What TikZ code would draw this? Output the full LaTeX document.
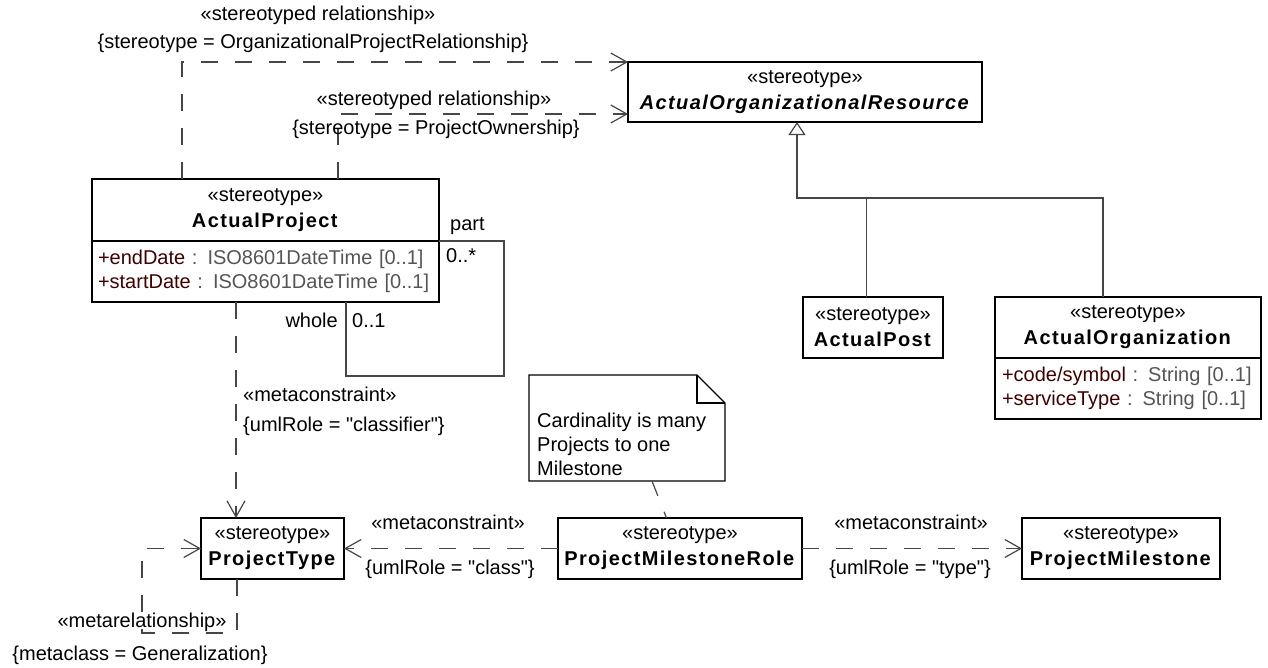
\documentclass[tikz,border=0pt]{standalone}
\usepackage{fontspec}
\setmainfont{Liberation Sans}[Ligatures=TeXOff,BoldFeatures={LetterSpace=7},BoldItalicFeatures={LetterSpace=7}]
\usepackage{tikz}
\usetikzlibrary{arrows.meta,positioning}

\definecolor{linegray}{RGB}{70,70,70}
\definecolor{attrname}{RGB}{64,0,0}
\definecolor{attrtype}{RGB}{85,85,85}

\newcommand{\umlfont}{\fontsize{20}{26}\selectfont}
\newcommand{\attrfont}{\fontsize{20}{24}\selectfont}
\newcommand{\umlattr}[2]{\textcolor{attrname}{#1} \textcolor{attrtype}{: #2}}

\begin{document}
\begin{tikzpicture}[x=1pt, y=-1pt,
    stereo/.style={draw, line width=1.3pt, fill=white, align=center, inner sep=0pt, outer sep=0pt, font=\umlfont},
    attrs/.style={draw, line width=1.3pt, fill=white, align=left, inner ysep=0pt, inner xsep=6pt, outer sep=0pt, minimum height=61pt, font=\attrfont},
    dep/.style={draw=linegray, line width=1.2pt, dash pattern=on 17pt off 17pt, -{Straight Barb[length=16pt,width=18pt]}},
    assoc/.style={draw=linegray, line width=1.2pt},
    gen/.style={draw=linegray, line width=1.2pt, -{Triangle[open,length=13pt,width=17pt]}},
    notelink/.style={draw=linegray, line width=1.2pt, dash pattern=on 16pt off 17pt},
    lbl/.style={font=\umlfont, inner sep=0pt, text height=14.5pt, text depth=4.5pt},
    notetext/.style={font=\fontsize{20}{24}\selectfont, align=left, inner sep=0pt}
  ]
    \useasboundingbox (0,0) rectangle (1268,667);

    % classes
    \node[stereo, minimum width=354pt, minimum height=60pt] (aor) at (805,92) {«stereotype»\\\textbf{\textit{ActualOrganizationalResource}}};
    \node[stereo, minimum width=347pt, minimum height=62pt] (ap) at (265.5,210) {«stereotype»\\\textbf{ActualProject}};
    \node[attrs, minimum width=347pt, text width=335pt, below=0pt of ap] (apattr) {\umlattr{+endDate}{ISO8601DateTime [0..1]}\\\umlattr{+startDate}{ISO8601DateTime [0..1]}};
    \node[stereo, minimum width=140pt, minimum height=61pt] (apost) at (873,327.5) {«stereotype»\\\textbf{ActualPost}};
    \node[stereo, minimum width=266pt, minimum height=61pt] (aorg) at (1128,327.5) {«stereotype»\\\textbf{ActualOrganization}};
    \node[attrs, minimum width=266pt, text width=252pt, inner xsep=7pt, below=0pt of aorg] (aorgattr) {\umlattr{+code/symbol}{String [0..1]}\\\umlattr{+serviceType}{String [0..1]}};
    \node[stereo, minimum width=143pt, minimum height=61pt] (pt) at (272.5,548.5) {«stereotype»\\\textbf{ProjectType}};
    \node[stereo, minimum width=244pt, minimum height=61pt] (pmr) at (680,548.5) {«stereotype»\\\textbf{ProjectMilestoneRole}};
    \node[stereo, minimum width=198pt, minimum height=61pt] (pm) at (1121,548.5) {«stereotype»\\\textbf{ProjectMilestone}};

    % note with folded corner
    \node[minimum width=196pt, minimum height=106pt, inner sep=0pt, outer sep=0pt] (note) at (627,428) {};
    \draw[line width=1.3pt, fill=white] (note.south west) -- (note.north west) -- ([xshift=-28pt]note.north east)
      -- ([yshift=-28pt]note.north east) -- (note.south east) -- cycle;
    \draw[line width=1.3pt] ([xshift=-28pt]note.north east) |- ([yshift=-28pt]note.north east);
    \node[notetext, anchor=north west] (notetxt) at ([shift={(8pt,-38pt)}]note.north west) {Cardinality is many\\Projects to one\\Milestone};
    \draw[notelink] ([xshift=25pt]note.south) -- ([xshift=-13.5pt]pmr.north);

    % stereotyped relationships
    \draw[dep] ([xshift=-83.5pt]ap.north) |- (aor.north west);
    \draw[dep] ([xshift=72.5pt]ap.north) |- ([yshift=8pt]aor.south west);
    \node[lbl] (orgrel) at (318,15) {«stereotyped relationship»};
    \node[lbl] (orgreltag) at (313,43) {\{stereotype = OrganizationalProjectRelationship\}};
    \node[lbl] (ownrel) at (434,100) {«stereotyped relationship»};
    \node[lbl] (ownreltag) at (436,129) {\{stereotype = ProjectOwnership\}};

    % whole/part
    \draw[assoc] (ap.south east) -- ++(65,0) -- ++(0,135) -| ([xshift=80.5pt]apattr.south);
    \node[lbl, anchor=west] (partlbl) at (450,225) {part};
    \node[lbl, anchor=west] (partmul) at (446,257) {0..*};
    \node[lbl, anchor=east] (wholelbl) at (338,322) {whole};
    \node[lbl, anchor=west] (wholemul) at (352,322) {0..1};

    % generalization
    \draw[gen] ([xshift=-25pt]aorg.north) -- ++(0,-99) -| ([xshift=-8pt]aor.south);
    \draw[assoc] ([xshift=-6.5pt]apost.north) -- ++(0,-99);

    % metaconstraints
    \draw[dep] ([xshift=-29.5pt]apattr.south) -- ([xshift=-36.5pt]pt.north);
    \node[lbl, anchor=west] (clscon) at (243,396) {«metaconstraint»};
    \node[lbl, anchor=west] (clscontag) at (243,426) {\{umlRole = "classifier"\}};
    \draw[dep] (pmr.west) -- (pt.east);
    \node[lbl] (classcon) at (448,524) {«metaconstraint»};
    \node[lbl] (classcontag) at (450,569) {\{umlRole = "class"\}};
    \draw[dep] (pmr.east) -- (pm.west);
    \node[lbl] (typecon) at (911,524) {«metaconstraint»};
    \node[lbl] (typecontag) at (910,569) {\{umlRole = "type"\}};

    % metarelationship loop
    \draw[dep] ([xshift=-35.5pt]pt.south) -- ++(0,54) -- ++(-95,0) |- (pt.west);
    \node[lbl] (metarel) at (142,622) {«metarelationship»};
    \node[lbl] (metareltag) at (140,655) {\{metaclass = Generalization\}};
\end{tikzpicture}
\end{document}
